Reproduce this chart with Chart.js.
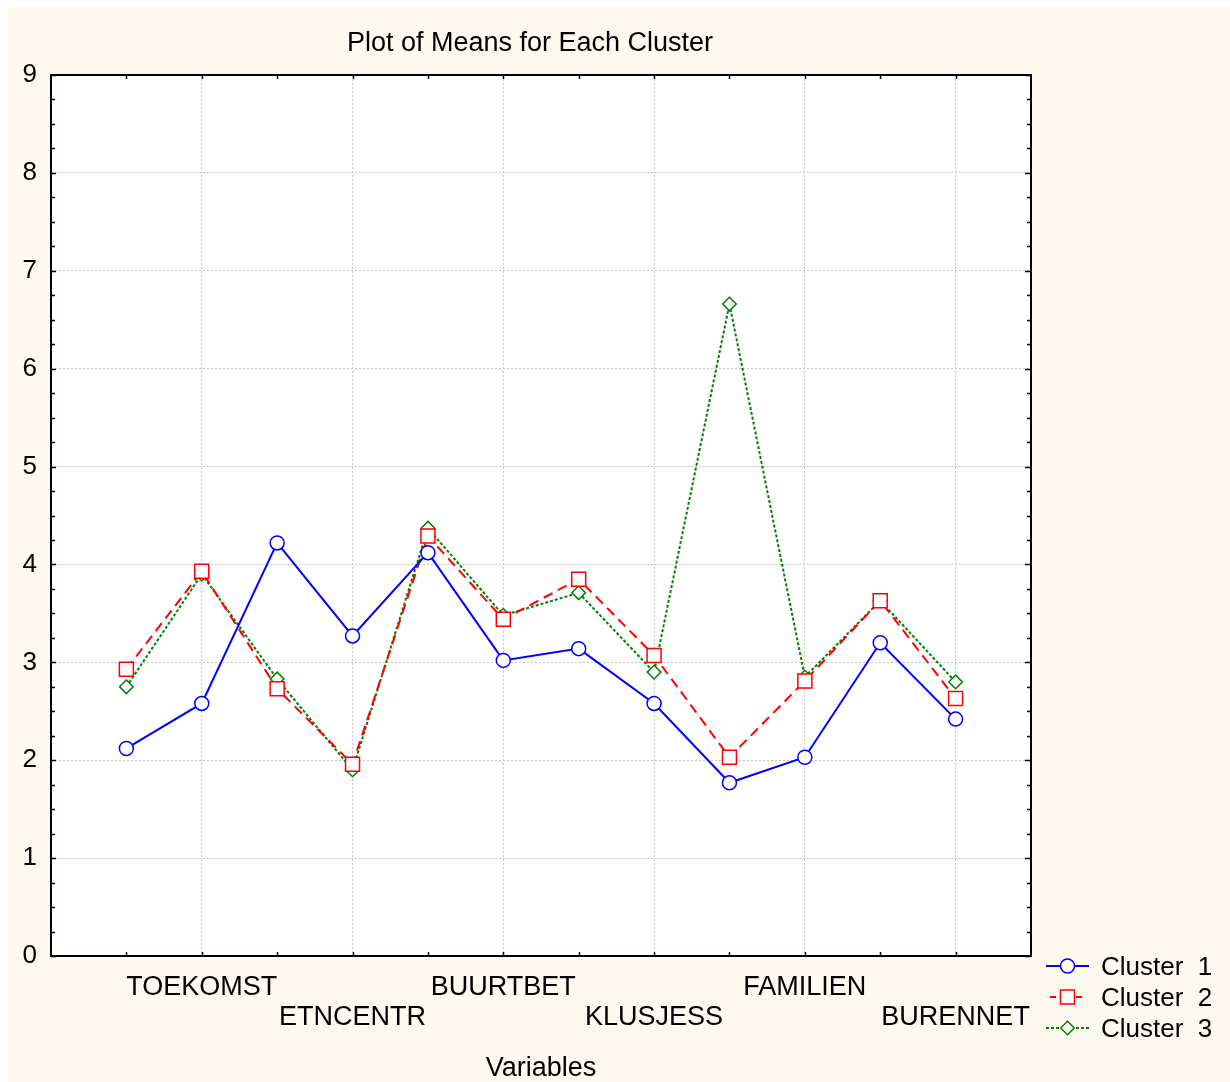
<!DOCTYPE html>
<html><head><meta charset="utf-8">
<script src="https://cdn.jsdelivr.net/npm/chart.js@4.4.1/dist/chart.umd.min.js"></script>
<style>html,body{margin:0;padding:0;background:#fff;} canvas{display:block;}</style>
</head><body>
<canvas id="c" width="1230" height="1082"></canvas>
<script>
// ---- data ----
const categories = ['', 'TOEKOMST', '', 'ETNCENTR', '', 'BUURTBET', '', 'KLUSJESS', '', 'FAMILIEN', '', 'BURENNET'];
const cluster1 = [2.12, 2.58, 4.22, 3.27, 4.12, 3.02, 3.14, 2.58, 1.77, 2.03, 3.20, 2.42];
const cluster2 = [2.93, 3.93, 2.73, 1.96, 4.29, 3.44, 3.85, 3.07, 2.03, 2.81, 3.63, 2.63];
const cluster3 = [2.75, 3.90, 2.83, 1.90, 4.37, 3.48, 3.71, 2.90, 6.66, 2.85, 3.63, 2.80];
const seriesNames = ['Cluster  1', 'Cluster  2', 'Cluster  3'];
const yMin = 0, yMax = 9;
const titleText = 'Plot of Means for Each Cluster';
const xAxisTitle = 'Variables';

const FONT = "'Liberation Sans', Arial, sans-serif";
const toPoints = arr => arr.map((v, i) => ({x: i + 1, y: v}));

const styles = [
  {color: '#0000FF', dash: [], pointStyle: 'circle', radius: 7},
  {color: '#FF0000', dash: [10, 6], pointStyle: 'rect', radius: 9.9},
  {color: '#008000', dash: [3, 2], pointStyle: 'rectRot', radius: 6.8}
];
const seriesData = [cluster1, cluster2, cluster3];

const datasets = seriesData.map((arr, i) => ({
  label: seriesNames[i],
  data: toPoints(arr),
  borderColor: styles[i].color,
  borderWidth: 2,
  borderDash: styles[i].dash,
  pointStyle: styles[i].pointStyle,
  pointRadius: styles[i].radius,
  pointHoverRadius: styles[i].radius,
  pointBorderColor: styles[i].color,
  pointBackgroundColor: '#FFFFFF',
  pointBorderWidth: 1.5,
  tension: 0,
  fill: false
}));

const decor = {
  id: 'decor',
  beforeDraw(chart) {
    const ctx = chart.ctx, a = chart.chartArea;
    ctx.save();
    ctx.fillStyle = '#FFFFFF';
    ctx.fillRect(0, 0, chart.width, chart.height);
    ctx.fillStyle = '#FEF9EE';
    ctx.fillRect(8, 6, chart.width - 8, chart.height - 6);
    ctx.fillStyle = '#FFFFFF';
    ctx.fillRect(a.left, a.top, a.right - a.left, a.bottom - a.top);
    ctx.restore();
  },
  afterDraw(chart) {
    const ctx = chart.ctx, a = chart.chartArea;
    const xs = chart.scales.x, ys = chart.scales.y;
    ctx.save();
    // inward tick marks
    ctx.strokeStyle = '#000';
    ctx.lineWidth = 1.5;
    ctx.beginPath();
    for (let v = yMin; v <= yMax + 1e-9; v += 0.25) {
      const y = Math.round(ys.getPixelForValue(v)) + 0.5;
      const major = Math.abs(v - Math.round(v)) < 1e-9;
      ctx.moveTo(a.left, y); ctx.lineTo(a.left + (major ? 5 : 4), y);
      ctx.moveTo(a.right, y); ctx.lineTo(a.right - (major ? 6 : 4), y);
    }
    for (let i = 1; i <= categories.length; i++) {
      const x = Math.round(xs.getPixelForValue(i)) + 0.5;
      ctx.moveTo(x, a.bottom); ctx.lineTo(x, a.bottom - 4);
      ctx.moveTo(x, a.top); ctx.lineTo(x, a.top + 4);
    }
    ctx.stroke();
    // frame
    ctx.lineWidth = 2;
    ctx.strokeRect(a.left, a.top, a.right - a.left, a.bottom - a.top);
    // title
    ctx.fillStyle = '#000';
    ctx.font = '27px ' + FONT;
    ctx.textAlign = 'center';
    ctx.textBaseline = 'middle';
    ctx.fillText(titleText, 530, 44);
    // legend
    chart.data.datasets.forEach((ds, i) => {
      const y = 966 + i * 31;
      ctx.save();
      ctx.strokeStyle = ds.borderColor;
      ctx.lineWidth = 2;
      ctx.setLineDash(i === 1 ? [6, 20] : (ds.borderDash || []));
      ctx.beginPath();
      if (i === 1) { ctx.moveTo(1050, y); ctx.lineTo(1089, y); }
      else { ctx.moveTo(1046, y); ctx.lineTo(1089, y); }
      ctx.stroke();
      ctx.restore();
      const cx = 1067.5, r = ds.pointRadius;
      ctx.save();
      ctx.fillStyle = '#FFFFFF';
      ctx.strokeStyle = ds.pointBorderColor;
      ctx.lineWidth = 1.5;
      ctx.beginPath();
      if (ds.pointStyle === 'circle') ctx.arc(cx, y, r, 0, Math.PI * 2);
      else if (ds.pointStyle === 'rect') { const s = r * Math.SQRT1_2; ctx.rect(cx - s, y - s, 2 * s, 2 * s); }
      else { ctx.moveTo(cx - r, y); ctx.lineTo(cx, y - r); ctx.lineTo(cx + r, y); ctx.lineTo(cx, y + r); ctx.closePath(); }
      ctx.fill(); ctx.stroke();
      ctx.restore();
      ctx.fillStyle = '#000';
      ctx.font = '26px ' + FONT;
      ctx.textAlign = 'left';
      ctx.textBaseline = 'middle';
      ctx.fillText(ds.label, 1101, y + 2);
    });
    ctx.restore();
  }
};

new Chart(document.getElementById('c'), {
  type: 'line',
  data: {datasets},
  options: {
    responsive: false,
    animation: false,
    devicePixelRatio: 1,
    layout: {padding: {top: 75, right: 199, left: 0, bottom: 0}},
    plugins: {legend: {display: false}, title: {display: false}, tooltip: {enabled: false}},
    scales: {
      x: {
        type: 'linear',
        min: 0, max: categories.length + 1,
        afterFit(s) { s.height = 126; },
        grid: {
          drawTicks: false,
          lineWidth: 1,
          color: c => (c.tick && c.tick.value % 2 === 0 && c.tick.value > 0 && c.tick.value <= categories.length) ? '#C4C4C4' : 'rgba(0,0,0,0)'
        },
        border: {display: false, dash: [2, 2]},
        ticks: {
          stepSize: 1, autoSkip: false, maxRotation: 0, minRotation: 0, maxTicksLimit: 50,
          padding: 17, color: '#000',
          font: {family: FONT, size: 27, lineHeight: 1.1},
          callback: v => {
            const name = categories[v - 1];
            if (!name) return '';
            const row = Math.floor((v - 2) / 2) % 2;
            return row ? ['', name] : name;
          }
        },
        title: {display: true, text: xAxisTitle, color: '#000', font: {family: FONT, size: 27, lineHeight: 1.0}, padding: {top: 0, bottom: 0}}
      },
      y: {
        type: 'linear',
        min: yMin, max: yMax,
        afterFit(s) { s.width = 51; },
        grid: {
          drawTicks: false,
          lineWidth: 1,
          color: c => (c.tick && c.tick.value > yMin && c.tick.value < yMax) ? '#C4C4C4' : 'rgba(0,0,0,0)'
        },
        border: {display: false, dash: [2, 2]},
        ticks: {stepSize: 1, padding: 14, color: '#000', font: {family: FONT, size: 26}}
      }
    }
  },
  plugins: [decor]
});
</script>
</body></html>
